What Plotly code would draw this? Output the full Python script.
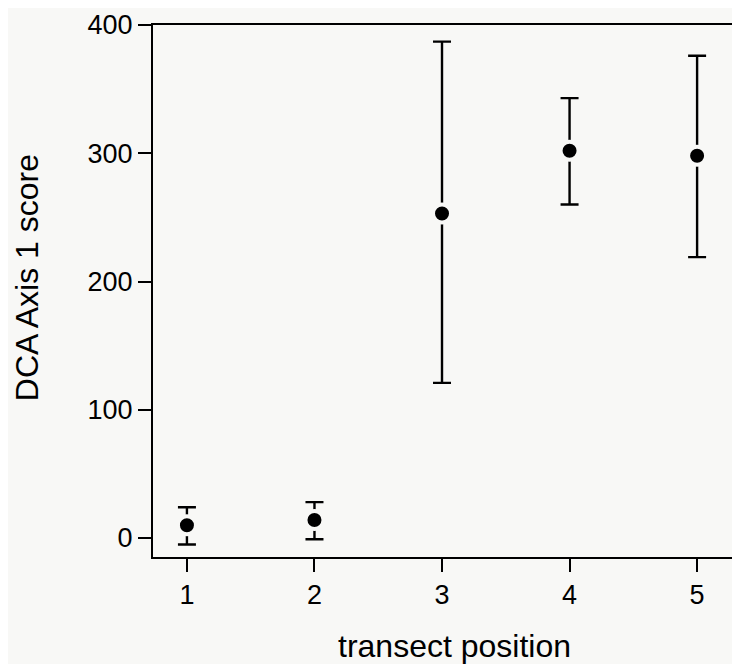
import plotly.graph_objects as go

positions = [1, 2, 3, 4, 5]
mean_scores = [10, 14, 253, 302, 298]
upper_limits = [24, 28, 387, 343, 376]
lower_limits = [-5, -1, 121, 260, 219]
x_title = "transect position"
y_title = "DCA Axis 1 score"

plus = [u - m for u, m in zip(upper_limits, mean_scores)]
minus = [m - l for m, l in zip(mean_scores, lower_limits)]

bg = "#f8f8f6"
font_family = "Liberation Sans, Arial, Helvetica, sans-serif"

fig = go.Figure()
fig.add_trace(go.Scatter(
    x=positions, y=mean_scores, mode="markers",
    marker=dict(color="black", size=18, line=dict(color=bg, width=4)),
    error_y=dict(type="data", symmetric=False, array=plus, arrayminus=minus,
                 color="black", thickness=2.4, width=9),
    showlegend=False,
))

fig.update_layout(
    width=732, height=656,
    margin=dict(l=145, r=2, t=15, b=107),
    paper_bgcolor=bg, plot_bgcolor=bg,
    font=dict(family=font_family, color="black", size=27),
    xaxis=dict(
        range=[0.734, 5.305], tickvals=positions, ticktext=[str(p) for p in positions],
        showgrid=False, zeroline=False, showline=True, mirror=True,
        linecolor="black", linewidth=2, ticks="outside", ticklen=13, tickwidth=2,
        tickcolor="black", tickfont=dict(size=27),
    ),
    yaxis=dict(
        range=[-14.8, 400], tickvals=[0, 100, 200, 300, 400],
        showgrid=False, zeroline=False, showline=True, mirror=True,
        linecolor="black", linewidth=2, ticks="outside", ticklen=13, tickwidth=2,
        tickcolor="black", tickfont=dict(size=27), ticklabeloverflow="allow",
    ),
    annotations=[
        dict(text=x_title, xref="paper", yref="paper", x=0.518, y=0,
             yshift=-89, xanchor="center", yanchor="middle", showarrow=False,
             font=dict(size=32)),
        dict(text=y_title, xref="paper", yref="paper", x=0, y=0.524,
             xshift=-126, xanchor="center", yanchor="middle", showarrow=False,
             textangle=-90, font=dict(size=32)),
    ],
)

fig.write_html("out.html")
